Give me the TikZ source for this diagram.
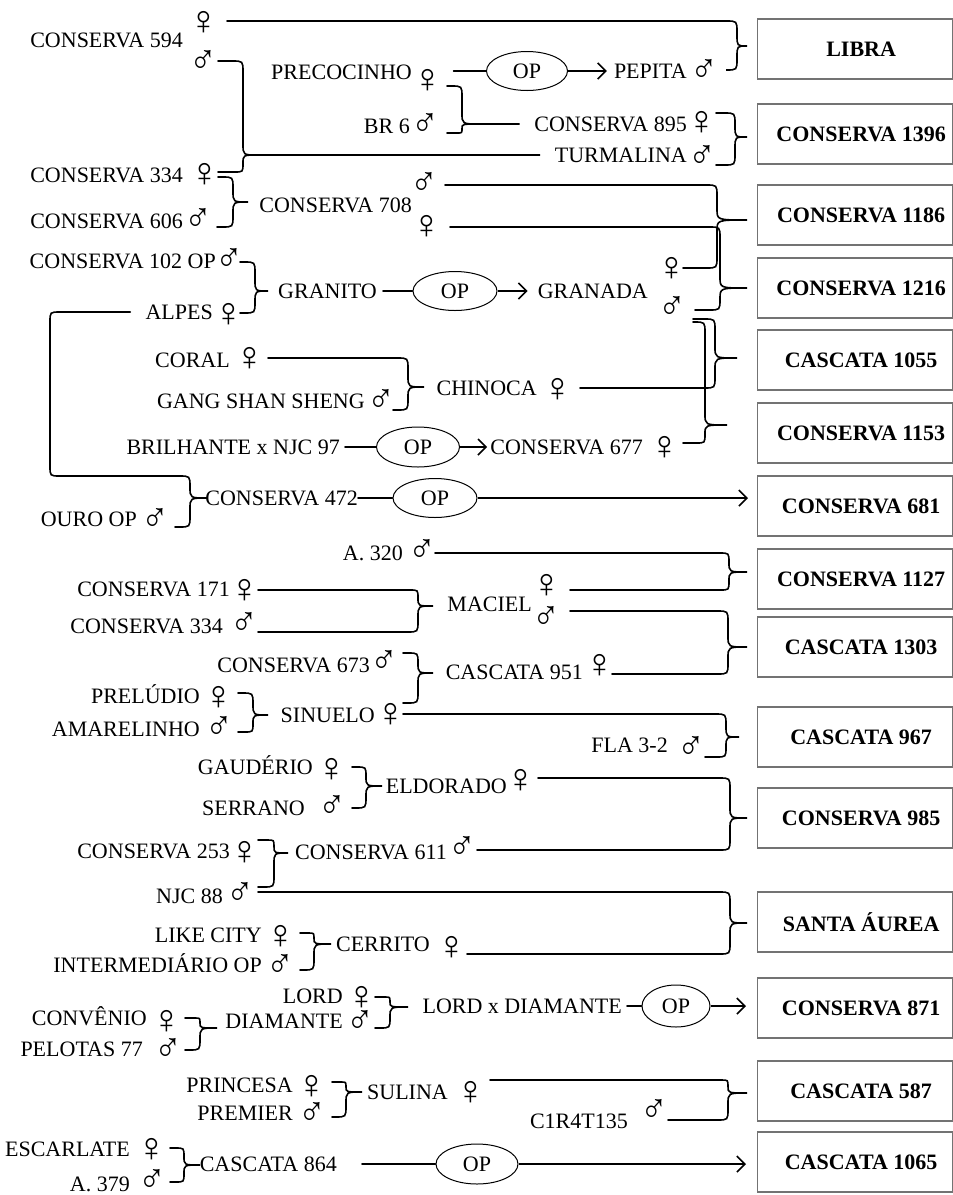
\documentclass[tikz,border=0pt]{standalone}
\usepackage{fontspec}
\usepackage{graphicx}
\setmainfont{Liberation Serif}
\usetikzlibrary{shapes.geometric,arrows.meta,calc}
\newcommand\mymale{\scalebox{0.9}[1]{♂}}
\newcommand\myfem{♀}
% brace: {top point}{bottom point}{x of vertical}{tip point}
\newcommand\brc[4]{%
  \draw[conn] let \p1=(#1), \p2=(#2), \p3=(#4),
    \n1={min(11pt,(\y1-\y3)/2)}, \n2={min(11pt,(\y3-\y2)/2)} in
   (\p1) -- ({#3-\n1},\y1)
   .. controls ({#3},\y1) .. ({#3},{\y1-\n1*1pt})
   -- ({#3},{\y3+\n1*1pt})
   .. controls ({#3},\y3) .. (\p3)
   .. controls ({#3},\y3) .. ({#3},{\y3-\n2*1pt})
   -- ({#3},{\y2+\n2*1pt})
   .. controls ({#3},\y2) .. ({#3-\n2},\y2) -- (\p2);}
\begin{document}
\begin{tikzpicture}[x=1pt,y=-1pt,
  lab/.style={inner sep=0pt,anchor=east,font=\fontsize{22}{26}\selectfont,text height=15pt,text depth=0pt},
  sx/.style={inner sep=0pt,font=\fontsize{41}{44}\selectfont},
  bx/.style={draw=black!55,line width=1.3pt,anchor=west,minimum width=195pt,minimum height=60pt,inner sep=0pt,font=\fontsize{22}{26}\selectfont\bfseries},
  op/.style={ellipse,draw,line width=1pt,minimum width=84pt,minimum height=39pt,inner sep=0pt,font=\fontsize{22}{26}\selectfont},
  conn/.style={line width=1.6pt,line cap=round},
  arr/.style={line width=1.6pt,-{Straight Barb[length=8pt,width=16pt,line width=1.6pt]}}]
\useasboundingbox (0,0) rectangle (953,1195);

% ---------- result boxes ----------
\node[bx] (libra) at (757,49) {\hspace*{12pt}LIBRA};
\node[bx] (b1396) at (757,134) {\hspace*{12pt}CONSERVA 1396};
\node[bx] (b1186) at (757,215) {\hspace*{12pt}CONSERVA 1186};
\node[bx] (b1216) at (757,288) {\hspace*{12pt}CONSERVA 1216};
\node[bx] (b1055) at (757,360) {\hspace*{12pt}CASCATA 1055};
\node[bx] (b1153) at (757,433) {\hspace*{12pt}CONSERVA 1153};
\node[bx] (b681) at (757,506) {\hspace*{12pt}CONSERVA 681};
\node[bx] (b1127) at (757,579) {\hspace*{12pt}CONSERVA 1127};
\node[bx] (b1303) at (757,647) {\hspace*{12pt}CASCATA 1303};
\node[bx] (b967) at (757,737) {\hspace*{12pt}CASCATA 967};
\node[bx] (b985) at (757,818) {\hspace*{12pt}CONSERVA 985};
\node[bx] (bsa) at (757,922) {\hspace*{12pt}SANTA ÁUREA};
\node[bx] (b871) at (757,1008) {\hspace*{12pt}CONSERVA 871};
\node[bx] (b587) at (757,1091) {\hspace*{12pt}CASCATA 587};
\node[bx] (b1065) at (757,1162) {\hspace*{12pt}CASCATA 1065};

% ---------- labels ----------
\node[lab] (t594) at (183,40) {CONSERVA 594};
\node[lab] (prec) at (412,72) {PRECOCINHO};
\node[lab] (br6) at (410,126) {BR 6};
\node[lab] (pepita) at (687,71) {PEPITA};
\node[lab] (c895) at (687,124) {CONSERVA 895};
\node[lab] (turm) at (687,155) {TURMALINA};
\node[lab] (c334) at (183,175) {CONSERVA 334};
\node[lab] (c606) at (183,221) {CONSERVA 606};
\node[lab] (c708) at (412,205) {CONSERVA 708};
\node[lab] (c102) at (216,261) {CONSERVA 102 OP};
\node[lab] (alpes) at (213,312) {ALPES};
\node[lab] (granito) at (377,291) {GRANITO};
\node[lab] (granada) at (648,291) {GRANADA};
\node[lab] (coral) at (230,360) {CORAL};
\node[lab] (gang) at (365,401) {GANG SHAN SHENG};
\node[lab] (chinoca) at (537,388) {CHINOCA};
\node[lab] (bril) at (340,447) {BRILHANTE x NJC 97};
\node[lab] (c677) at (643,447) {CONSERVA 677};
\node[lab] (c472) at (358,498) {CONSERVA 472};
\node[lab] (ouro) at (137,519) {OURO OP};
\node[lab] (a320) at (403,553) {A. 320};
\node[lab] (c171) at (230,589) {CONSERVA 171};
\node[lab] (c334b) at (223,626) {CONSERVA 334};
\node[lab] (maciel) at (532,604) {MACIEL};
\node[lab] (c673) at (370,665) {CONSERVA 673};
\node[lab] (c951) at (583,672) {CASCATA 951};
\node[lab] (prel) at (200,696) {PRELÚDIO};
\node[lab] (amar) at (200,729) {AMARELINHO};
\node[lab] (sinuelo) at (375,715) {SINUELO};
\node[lab] (fla) at (668,745) {FLA 3-2};
\node[lab] (gaud) at (313,767) {GAUDÉRIO};
\node[lab] (eldo) at (507,786) {ELDORADO};
\node[lab] (serr) at (305,808) {SERRANO};
\node[lab] (c253) at (230,851) {CONSERVA 253};
\node[lab] (c611) at (447,852) {CONSERVA 611};
\node[lab] (njc) at (223,896) {NJC 88};
\node[lab] (like) at (262,935) {LIKE CITY};
\node[lab] (inter) at (262,965) {INTERMEDIÁRIO OP};
\node[lab] (cerr) at (430,944) {CERRITO};
\node[lab] (lord) at (343,996) {LORD};
\node[lab] (diam) at (343,1021) {DIAMANTE};
\node[lab] (lxd) at (622,1006) {LORD x DIAMANTE};
\node[lab] (conv) at (147,1018) {CONVÊNIO};
\node[lab] (pel) at (143,1049) {PELOTAS 77};
\node[lab] (princ) at (293,1085) {PRINCESA};
\node[lab] (prem) at (293,1113) {PREMIER};
\node[lab] (sulina) at (448,1092) {SULINA};
\node[lab] (c1r) at (628,1121) {C1R4T135};
\node[lab] (esc) at (130,1149) {ESCARLATE};
\node[lab] (a379) at (130,1184) {A. 379};
\node[lab] (c864) at (337,1164) {CASCATA 864};

% ---------- sex symbols ----------
\node[sx] (f594) at (204,23) {\myfem};
\node[sx] (m594) at (203,62) {\mymale};
\node[sx] (fprec) at (428,81) {\myfem};
\node[sx] (mbr6) at (425,125) {\mymale};
\node[sx] (mpep) at (704,71) {\mymale};
\node[sx] (f895) at (702,123) {\myfem};
\node[sx] (mturm) at (702,157) {\mymale};
\node[sx] (f334) at (205,175) {\myfem};
\node[sx] (m606) at (198,220) {\mymale};
\node[sx] (m708) at (424,184) {\mymale};
\node[sx] (f708) at (427,227) {\myfem};
\node[sx] (m102) at (229,260) {\mymale};
\node[sx] (falp) at (229,315) {\myfem};
\node[sx] (fgran) at (672,269) {\myfem};
\node[sx] (mgran) at (672,308) {\mymale};
\node[sx] (fcor) at (250,359) {\myfem};
\node[sx] (mgang) at (381,401) {\mymale};
\node[sx] (fchin) at (558,390) {\myfem};
\node[sx] (f677) at (665,448) {\myfem};
\node[sx] (mouro) at (155,520) {\mymale};
\node[sx] (ma320) at (422,551) {\mymale};
\node[sx] (f171) at (245,591) {\myfem};
\node[sx] (m334b) at (244,624) {\mymale};
\node[sx] (fmac) at (547,586) {\myfem};
\node[sx] (mmac) at (546,618) {\mymale};
\node[sx] (m673) at (384,662) {\mymale};
\node[sx] (f951) at (600,666) {\myfem};
\node[sx] (fprel) at (219,698) {\myfem};
\node[sx] (mamar) at (219,728) {\mymale};
\node[sx] (fsin) at (391,715) {\myfem};
\node[sx] (mfla) at (691,748) {\mymale};
\node[sx] (fgaud) at (332,770) {\myfem};
\node[sx] (mserr) at (332,807) {\mymale};
\node[sx] (feldo) at (521,781) {\myfem};
\node[sx] (f253) at (245,853) {\myfem};
\node[sx] (mnjc) at (240,894) {\mymale};
\node[sx] (m611) at (462,848) {\mymale};
\node[sx] (flike) at (281,937) {\myfem};
\node[sx] (minter) at (280,966) {\mymale};
\node[sx] (fcerr) at (452,948) {\myfem};
\node[sx] (flord) at (362,998) {\myfem};
\node[sx] (mdiam) at (360,1022) {\mymale};
\node[sx] (fconv) at (167,1022) {\myfem};
\node[sx] (mpel) at (168,1050) {\mymale};
\node[sx] (fprin) at (312,1087) {\myfem};
\node[sx] (mprem) at (312,1114) {\mymale};
\node[sx] (fsul) at (471,1093) {\myfem};
\node[sx] (mc1r) at (654,1111) {\mymale};
\node[sx] (fesc) at (152,1150) {\myfem};
\node[sx] (ma379) at (152,1181) {\mymale};

% ---------- OP ellipses ----------
\node[op,minimum width=81pt] (op1) at (527,71) {OP};
\node[op] (op2) at (455,291) {OP};
\node[op,minimum width=83pt,minimum height=40pt] (op4) at (418,447) {OP};
\node[op] (op3) at (435,498) {OP};
\node[op,minimum width=68pt,minimum height=42pt] (op5) at (676,1006) {OP};
\node[op,minimum width=82pt,minimum height=40pt] (op6) at (477,1164) {OP};

% ---------- straight connectors ----------
\draw[conn,shorten <=10pt] (fprec.east |- op1.west) -- (op1.west);
\draw[arr] (op1.east) -- ([xshift=-7pt]pepita.west);
\draw[conn,shorten <=6pt] (granito.east) -- (op2.west);
\draw[arr] (op2.east) -- ([xshift=-10pt]granada.west);
\draw[conn,shorten <=5pt] (bril.east) -- (op4.west);
\draw[arr] (op4.east) -- ([xshift=-3pt]c677.west);
\draw[conn] (c472.east) -- (op3.west);
\draw[arr] (op3.east) -- ($(op3.east -| b681.west)+(-9,0)$);
\draw[conn,shorten <=5pt] (lxd.east) -- (op5.west);
\draw[arr] (op5.east) -- ($(op5.east -| b871.west)+(-11,0)$);
\draw[conn,shorten <=25pt] (c864.east) -- (op6.west);
\draw[arr] (op6.east) -- ($(op6.east -| b1065.west)+(-11,0)$);

% ---------- braces ----------
\brc{227,21}{727,70}{737}{747,46}        % LIBRA
\brc{716,113}{716,165}{735}{747,137}     % CONSERVA 1396
\brc{218,61}{218,172}{243}{258,155}      % -> TURMALINA
\draw[conn] (258,155) -- ([xshift=-15pt]turm.west);
\brc{447,86}{447,133}{462}{480,124}      % -> CONSERVA 895
\draw[conn] (480,124) -- ([xshift=-15pt]c895.west);
\brc{218,177}{217,227}{233}{248,202}     % -> CONSERVA 708
\brc{445,185}{683,268}{717}{747,220}     % CONSERVA 1186
\brc{450,227}{695,310}{720}{747,288}     % CONSERVA 1216
\brc{240,262}{240,313}{255}{268,291}     % -> GRANITO
\brc{693,319}{580,388}{715}{737,358}     % CASCATA 1055
\brc{693,322}{683,443}{705}{727,425}     % CONSERVA 1153
\brc{268,358}{393,410}{408}{424,387}     % -> CHINOCA
\draw[conn] ([xshift=-15pt]alpes.west) -- (60,312) .. controls (50,312) .. (50,322) -- (50,466) .. controls (50,476) .. (60,476);
\brc{60,476}{175,527}{190}{207,498}      % -> CONSERVA 472
\brc{435,553}{570,590}{729}{747,572}     % CONSERVA 1127
\brc{258,590}{258,632}{418}{433,606}     % -> MACIEL
\brc{570,611}{612,674}{728}{747,647}     % CASCATA 1303
\brc{403,653}{403,703}{418}{433,673}     % -> CASCATA 951
\brc{238,693}{238,732}{253}{268,715}     % -> SINUELO
\brc{403,714}{705,757}{726}{739,737}     % CASCATA 967
\brc{352,767}{352,808}{366}{382,786}     % -> ELDORADO
\brc{538,778}{477,850}{730}{747,818}     % CONSERVA 985
\brc{258,840}{258,887}{274}{288,853}     % -> CONSERVA 611
\brc{258,892}{467,954}{730}{747,923}     % SANTA AUREA
\brc{300,933}{300,970}{314}{331,944}     % -> CERRITO
\brc{375,997}{375,1028}{390}{408,1007}   % -> LORD x DIAMANTE
\brc{185,1018}{185,1050}{200}{217,1028}  % -> DIAMANTE
\brc{332,1082}{332,1117}{346}{362,1092}  % -> SULINA
\brc{490,1080}{668,1120}{728}{747,1093}  % CASCATA 587
\brc{170,1148}{170,1182}{184}{200,1165}  % -> CASCATA 864
\end{tikzpicture}
\end{document}
